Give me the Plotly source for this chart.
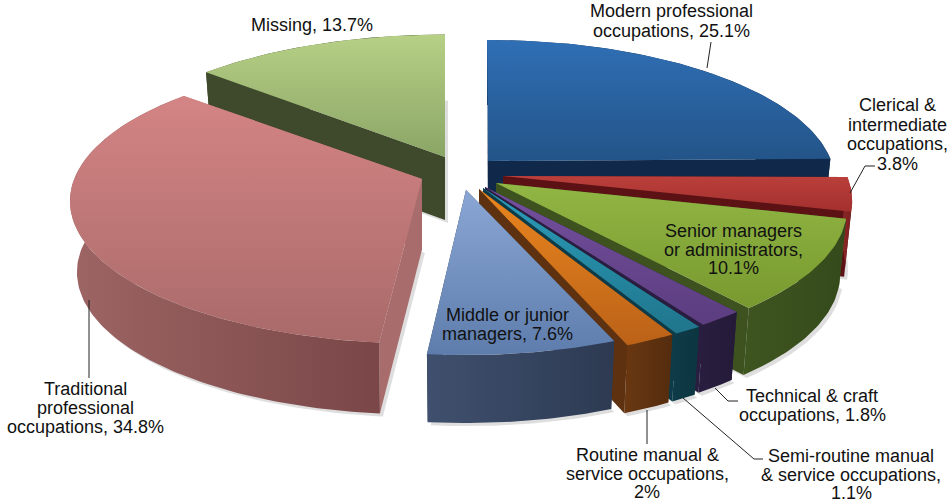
import math
import plotly.graph_objects as go

# ---- data (clockwise from 12 o'clock) ----
categories = ["Modern professional occupations", "Clerical & intermediate occupations",
              "Senior managers or administrators", "Technical & craft occupations",
              "Semi-routine manual & service occupations", "Routine manual & service occupations",
              "Middle or junior managers", "Traditional professional occupations", "Missing"]
values = [25.1, 3.8, 10.1, 1.8, 1.1, 2, 7.6, 34.8, 13.7]
label_templates = ["Modern professional<br>occupations, {v}%", "Clerical &<br>intermediate<br>occupations,<br>{v}%",
                   "Senior managers<br>or administrators,<br>{v}%", "Technical & craft<br>occupations, {v}%",
                   "Semi-routine manual<br>& service occupations,<br>{v}%", "Routine manual &<br>service occupations,<br>{v}%",
                   "Middle or junior<br>managers, {v}%", "Traditional<br>professional<br>occupations, {v}%", "Missing, {v}%"]

# ---- exploded 3-D projection settings ----
RX, RY, PERSP, RIM = 350, 141, 0.17, 0.98
# arc centre x, y, apex x, y, radius scale, wall depth
geom = [(487, 158, 488, 161, 0.98, 65), (497, 176, 503, 176, 1.0, 65), (492, 183, 496, 183, 1.0, 67),
        (480, 187, 485, 187, 1.0, 68), (476, 189, 483, 188, 1.0, 68), (472, 190, 479, 189, 1.0, 68),
        (465, 192, 466, 190, 0.96, 68), (418, 177, 422, 179, 0.98, 71), (445, 155, 445, 157, 1.0, 63)]
# top gradient (top, bottom), cut-face colour, outer wall gradient (left, right)
top_cols = [("#2f6fb5", "#235488"), ("#bb3f3b", "#a2302e"), ("#92b644", "#77992f"), ("#74509e", "#5c3d80"),
            ("#2c9dba", "#1f758c"), ("#ea861f", "#bb6218"), ("#8aa6d4", "#5e7dac"), ("#d48485", "#a96a69"),
            ("#b6d086", "#8ba566")]
cut_cols = ["#102849", "#5c1214", "#3e5220", "#2a1e40", "#0e3b48", "#5e3210", "#2d3a52", "#a96c6c", "#3f4a2d"]
wall_cols = [("#102849", "#102849"), ("#8e2a28", "#7a1f1f"), ("#3f5520", "#354a1b"), ("#2a1e40", "#241a38"),
             ("#0e3b48", "#0c3640"), ("#6a3812", "#542c0e"), ("#3f506e", "#2d3a52"), ("#9d6564", "#7a4647"),
             ("#3f4a2d", "#3f4a2d")]


def pt(deg, g):
    t = math.radians(deg)
    u, v = math.sin(t) * g[4], math.cos(t) * g[4]
    s = 1 / (1 + PERSP * math.cos(t))
    return g[0] + RX * u * s, g[1] - RY * v * s


def low(p, g):
    return g[0] + (p[0] - g[0]) * RIM, p[1] + g[5]


fig = go.Figure()


def poly(points, c1=None, c2=None, kind="vertical", solid=None):
    xs = [p[0] for p in points] + [points[0][0]]
    ys = [p[1] for p in points] + [points[0][1]]
    kw = dict(x=xs, y=ys, mode="lines", fill="toself", line=dict(width=0), hoverinfo="skip", showlegend=False)
    if solid:
        kw["fillcolor"] = solid
    else:
        kw["fillgradient"] = dict(type=kind, colorscale=[[0, c1], [1, c2]])
    fig.add_trace(go.Scatter(**kw))


shapes = []
start = 0.0
for val in values:
    sweep = val * 3.6
    n = max(6, int(sweep))
    shapes.append([pt(start + sweep * i / n, geom[len(shapes)]) for i in range(n + 1)])
    start += sweep

# soft shadows first
for arc, g in zip(shapes, geom):
    ap = (g[2], g[3])
    outline = [low(ap, g)] + [low(p, g) for p in arc]
    poly([(x + 3, y + 3) for x, y in outline], solid="rgba(0,0,0,0.13)")

# slices, back to front
for i in [8, 0, 7, 1, 2, 3, 4, 5, 6]:
    arc, g = shapes[i], geom[i]
    ap = (g[2], g[3])
    for edge in (arc[0], arc[-1]):
        poly([ap, edge, low(edge, g), low(ap, g)], solid=cut_cols[i])
    poly(arc + [low(p, g) for p in reversed(arc)], wall_cols[i][0], wall_cols[i][1], "horizontal")
    # the y axis runs downward, so the gradient stops go bottom colour first
    poly([ap] + arc, top_cols[i][1], top_cols[i][0], "vertical")

# leader lines: data-label callouts
leaders = [[(707, 68), (711, 42)], [(850, 193), (865, 166), (875, 166)], [(715, 388), (728, 401), (738, 401)],
           [(683, 398), (754, 459), (763, 459)], [(647, 410), (647, 444)], [(89, 300), (89, 378)]]
for L in leaders:
    fig.add_trace(go.Scatter(x=[p[0] for p in L], y=[p[1] for p in L], mode="lines",
                             line=dict(color="#222222", width=1), hoverinfo="skip", showlegend=False))

# label centre x, first line y, line step
label_pos = [(671, 11, 20), (897, 105, 19.5), (733, 231, 18.5), (812, 396, 19), (851, 456, 18.5), (647, 455, 18.5),
             (507, 315, 18.5), (85, 389, 19), (312, 25, 0)]
for tpl, val, (x, y, step) in zip(label_templates, values, label_pos):
    for k, line in enumerate(tpl.format(v=f"{val:g}").split("<br>")):
        fig.add_annotation(x=x, y=y + k * step, xref="x", yref="y", text=line, showarrow=False, align="center",
                           font=dict(family="Liberation Sans, Arial", size=18, color="#111111"))

fig.update_xaxes(range=[0, 948], visible=False, fixedrange=True)
fig.update_yaxes(range=[501, 0], visible=False, fixedrange=True)
fig.update_layout(width=948, height=501, margin=dict(l=0, r=0, t=0, b=0), paper_bgcolor="white",
                  plot_bgcolor="white", showlegend=False)
fig.write_html("out.html", config={"displayModeBar": False},
               post_script="document.body.style.margin='0';document.body.style.overflow='hidden';")
